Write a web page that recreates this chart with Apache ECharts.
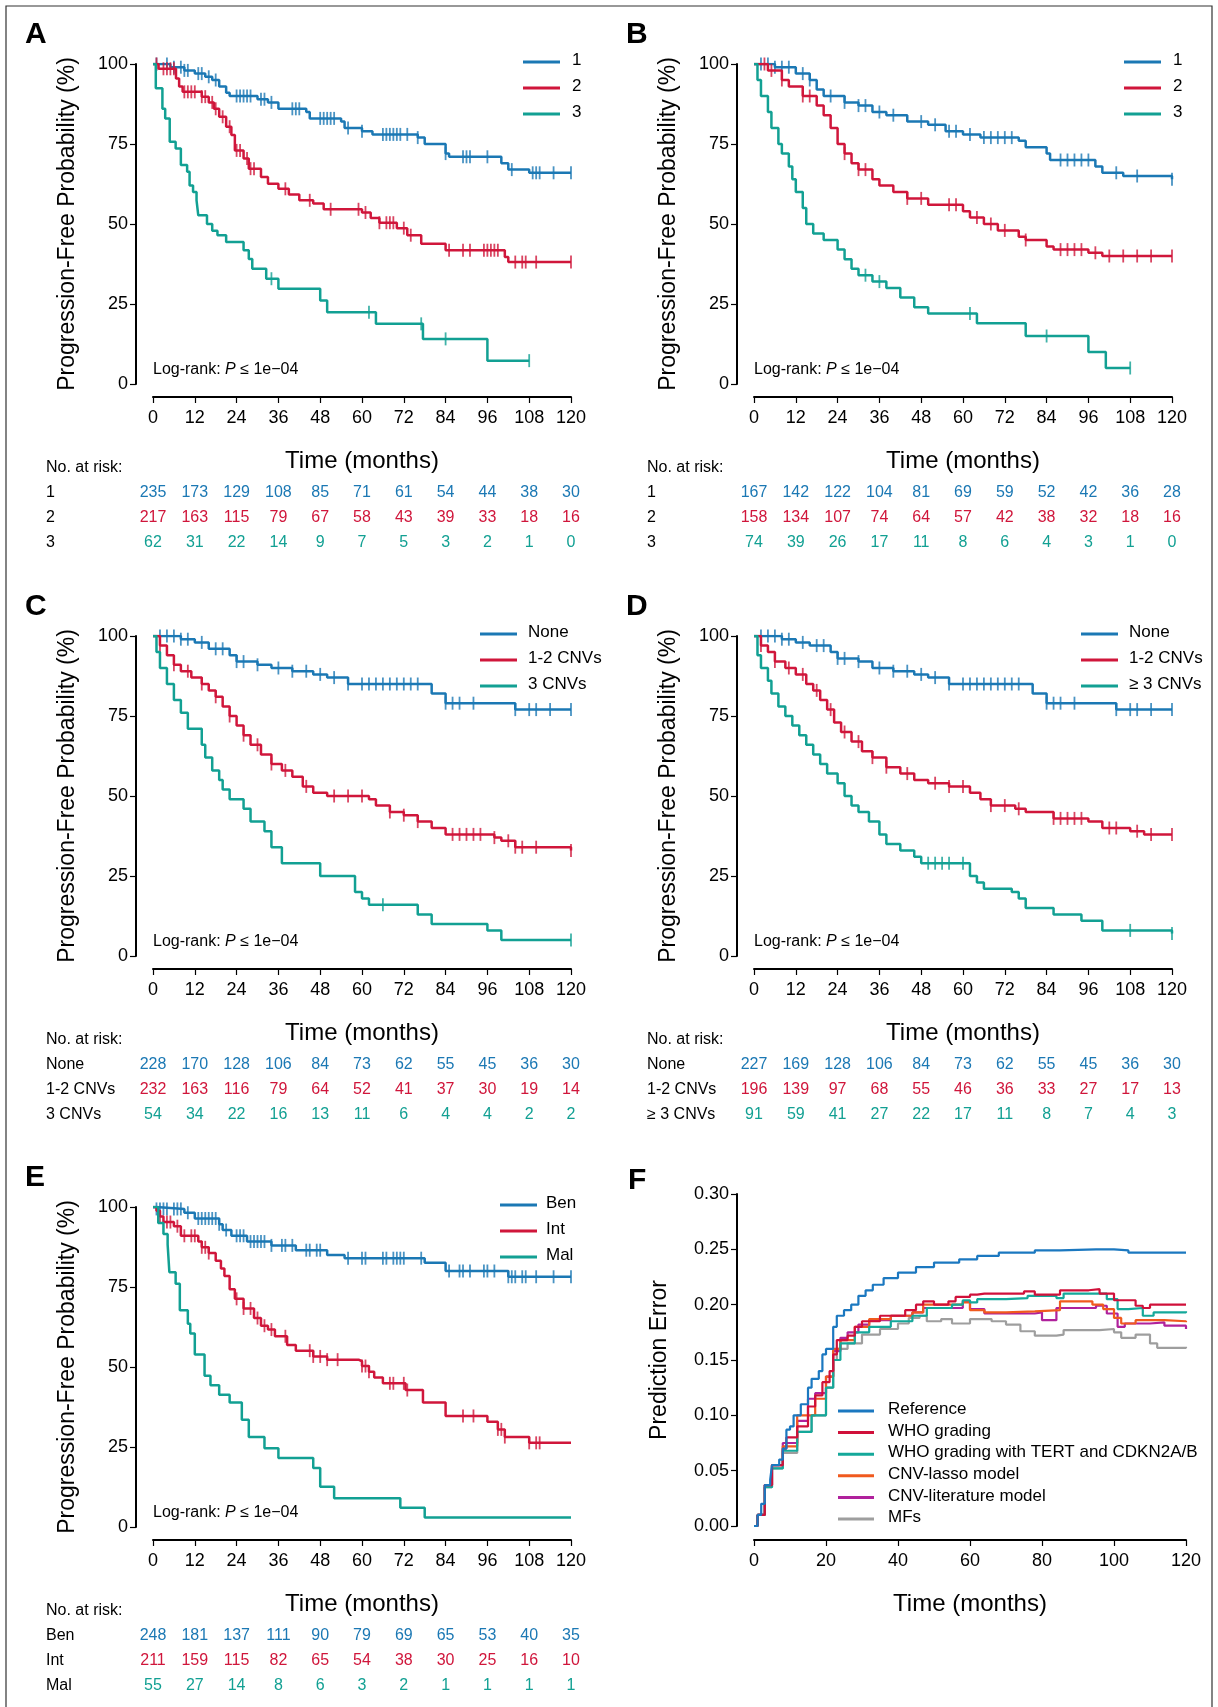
<!DOCTYPE html>
<html><head><meta charset="utf-8">
<script src="https://cdn.jsdelivr.net/npm/echarts@6/dist/echarts.min.js"></script>
<style>html,body{margin:0;padding:0;background:#fff}#c{width:1218px;height:1707px}</style>
</head><body><div id="c"></div>
<script>
var BLUE = '#1b78b4', RED = '#d0163b', TEAL = '#12a093';
var FONT = '"Liberation Sans", Arial, sans-serif';
var timeTicks = [0, 12, 24, 36, 48, 60, 72, 84, 96, 108, 120];

// ---- KM curves (time, % progression-free) ----
var A1 = [[0,100],[5,99],[9,98],[12,97],[15,96],[17,95],[19,93],[21,91],[22,90],[30,89],[33,88],[36,86],[44,85],[45,83],[54,82],[55,80],[60,79],[63,78],[76,77],[78,75],[84,72],[85,71],[100,69],[102,67],[108,66],[120,66]];
var A2 = [[0,100],[1.6,98.5],[6.6,95.5],[7.5,93],[8.5,91.3],[14,89.8],[16,88],[17.5,86],[19,83.5],[21,80.4],[22.5,77.8],[23.5,73],[26,70.5],[27.5,67.3],[31,64.7],[33,62.6],[36,61],[39,59.2],[42,57.4],[46,56.4],[49,54.6],[60,53.6],[62.5,51.9],[65,50.4],[70,48.7],[73,46.5],[77,43.8],[84,41.8],[101,39.7],[102,38.1],[120,38.1]];
var A3 = [[0,100],[0.8,92.4],[2.7,86],[3.5,83],[4.8,75.7],[6.5,73.6],[8,68.4],[9.8,66.3],[10.5,62],[11.5,60],[12.5,57.4],[13,52.7],[15.5,50],[17,47.9],[18.5,46.5],[21,44.4],[26,41.8],[27.5,39.1],[28.5,36],[32.5,32.9],[36,29.8],[48,26.1],[50,22.4],[64,18.8],[77.5,14.1],[96,7.3],[108,7.3]];
var B1 = [[0,100],[6,99],[12,97],[16,95],[18,92],[20,90],[26,88],[30,87],[34,85],[38,84],[44,82],[50,81],[55,79],[60,78],[65,77],[76,76],[78,74],[84,72],[85,70],[98,68],[100,66],[106,65],[120,64]];
var B2 = [[0,100],[4,98],[8,95],[10,93],[14,90],[18,87],[20,84],[22,80],[24,75],[26,72],[28,69],[30,67],[34,64],[36,62],[40,60],[44,58],[50,56],[60,54],[62,52],[66,50],[70,48],[76,46],[78,45],[84,43],[86,42],[96,41],[100,40],[120,40]];
var B3 = [[0,100],[1,95],[2,90],[4,85],[5,80],[7,75],[8,72],[10,68],[11,64],[12,60],[14,55],[15,50],[17,47],[20,45],[24,42],[26,39],[28,36],[30,34],[34,32],[38,30],[42,27],[46,24],[50,22],[64,19],[78,15],[96,10],[101,5],[108,5]];
var C1 = [[0,100],[8,99],[12,98],[16,96],[22,94],[24,92],[30,91],[34,90],[40,89],[46,88],[50,87],[56,85],[78,85],[80,82],[84,79],[104,77],[120,77]];
var C2 = [[0,100],[2,97],[4,94],[6,91],[8,89],[11,87],[14,85],[16,83],[18,81],[20,78],[22,75],[24,72],[26,69],[28,66],[31,63],[34,60],[37,58],[40,56],[43,53],[46,51],[50,50],[62,49],[64,47],[68,45],[72,44],[76,42],[80,40],[84,38],[98,37],[100,36],[104,34],[120,33]];
var C3 = [[0,100],[1,95],[2,90],[4,85],[6,80],[8,76],[10,71],[14,66],[15,62],[17,58],[19,55],[20,52],[22,49],[26,46],[28,42],[32,39],[34,34],[37,29],[48,25],[58,20],[60,18],[62,16],[72,16],[76,13],[80,10],[96,8],[100,5],[120,5]];
var D1 = [[0,100],[8,99],[12,98],[16,97],[22,95],[24,93],[30,92],[34,90],[40,89],[46,88],[50,87],[56,85],[78,85],[80,82],[84,79],[104,77],[120,77]];
var D2 = [[0,100],[2,97],[4,95],[6,92],[9,90],[12,88],[15,85],[17,83],[19,80],[21,77],[23,73],[25,70],[28,67],[31,64],[34,62],[38,59],[42,57],[46,55],[50,54],[56,53],[62,51],[65,49],[68,47],[75,46],[78,45],[86,43],[96,42],[100,40],[108,39],[112,38],[120,38]];
var D3 = [[0,100],[1,94],[2,90],[4,86],[5,82],[7,78],[9,75],[11,72],[13,69],[15,66],[17,63],[19,60],[21,57],[24,54],[26,50],[28,47],[30,45],[33,42],[36,38],[38,35],[42,33],[46,31],[48,29],[60,29],[62,25],[64,23],[66,21],[74,20],[76,18],[78,15],[86,13],[94,11],[100,8],[120,7]];
var E1 = [[0,100],[1,99.4],[9,98.2],[12,96.4],[19,94.6],[20,92.8],[22.5,91],[27,89.2],[34,88],[41,86.5],[50,85],[55,84],[78,82.6],[84,80],[102,78.2],[120,78.2]];
var E2 = [[0,100],[1,98.8],[2,97],[3,95.3],[6,94],[8,91],[13,89.2],[14,87.4],[16,85.6],[18,83.2],[19.5,80.8],[20.5,78.4],[22,74.3],[23.5,71.3],[26,68.3],[29,65.3],[31,62.9],[33,61.7],[35,59.6],[38.5,56.9],[41,55.1],[46,53.3],[50,52.3],[59,51.8],[60,50.3],[62,48.5],[63.5,46.7],[66,44.9],[72.5,42.8],[77.5,38.9],[84,34.7],[96,32.9],[99,30.5],[101,28.1],[108,26.3],[120,26.3]];
var E3 = [[0,100],[1.5,95],[3,91.6],[4.2,88.3],[4.7,79.6],[6.5,76],[7.7,67.7],[10,63.5],[10.7,60.5],[12,53.9],[14.8,47.3],[16.5,44.3],[19,41.3],[22,38.9],[25.5,33.5],[27.5,28.1],[32,24.6],[36,21.6],[46,18.4],[48,12.6],[52,9],[71,6],[78,3],[120,3]];

// censoring times
var A1c = [1,4,6,8,9,10,13,14,16,18,24,25,26,27,28,31,32,34,40,41,42,48,49,50,51,52,56,60,66,67,68,69,70,71,73,76,84,89,90,91,96,103,109,110,111,115,120];
var A2c = [1,3,4,5,6,9,10,11,12,14,15,17,18,20,22,24,25,27,28,29,38,45,51,59,61,65,67,68,69,72,74,85,89,91,95,96,97,98,99,104,106,107,110,120];
var A3c = [34,62,77,84,108];
var B1c = [2,4,6,8,10,14,16,22,26,30,32,36,40,48,52,56,58,62,66,68,70,72,74,88,90,92,94,96,104,110,120];
var B2c = [3,5,8,14,16,26,30,32,44,48,56,58,64,68,72,78,88,90,92,94,98,102,106,110,114,120];
var B3c = [32,36,62,84,108];
var C1c = [2,4,6,8,10,14,18,20,24,26,30,36,40,44,48,52,56,60,62,64,66,68,70,72,74,76,84,86,88,92,104,108,110,114,120];
var C2c = [2,6,10,14,18,22,26,30,34,38,44,52,56,60,68,72,76,86,88,90,92,94,98,102,104,106,110,120];
var C3c = [66,120];
var D1c = [2,4,6,8,10,14,18,20,24,26,30,36,40,44,48,52,56,60,62,64,66,68,70,72,74,76,84,86,88,92,104,108,110,114,120];
var D2c = [2,6,10,14,18,22,26,30,34,38,44,52,56,60,68,72,76,86,88,90,92,94,102,104,110,114,120];
var D3c = [50,52,54,56,60,108,120];
var E1c = [1,2,3,4,6,7,8,10,13,14,15,16,17,18,19,21,24,25,26,28,29,30,31,32,34,37,38,40,44,45,47,48,56,60,61,66,67,69,70,71,72,77,85,88,89,91,95,96,98,102,103,104,106,107,110,115,120];
var E2c = [2,4,5,7,9,11,12,14,15,16,24,26,28,30,32,34,38,45,46,48,50,53,60,61,62,68,69,72,73,89,92,99,100,101,108,110,111];
var E3c = [];

// ---- prediction error curves (panel F) ----
var fRef = [[0,0],[1,0.01],[2,0.02],[3,0.037],[4.5,0.042],[5,0.055],[7,0.06],[8,0.07],[9,0.087],[10,0.09],[11,0.1],[13,0.11],[15,0.125],[16,0.133],[18,0.14],[19,0.155],[20,0.16],[22,0.18],[23,0.19],[25,0.195],[27,0.2],[29,0.208],[31,0.213],[33,0.218],[36,0.224],[40,0.229],[45,0.234],[50,0.238],[57,0.241],[62,0.244],[68,0.247],[78,0.249],[85,0.25],[95,0.25],[100,0.249],[104,0.247],[120,0.247]];
var fWho = [[0,0],[1,0.01],[3,0.037],[5,0.055],[8,0.07],[9,0.08],[12,0.09],[15,0.108],[17,0.118],[19,0.13],[21,0.14],[22,0.155],[23,0.168],[26,0.172],[28,0.18],[30,0.185],[35,0.19],[42,0.195],[45,0.2],[47,0.203],[50,0.2],[54,0.203],[56,0.207],[60,0.209],[62,0.21],[64,0.21],[75,0.212],[78,0.209],[85,0.213],[93,0.214],[96,0.21],[100,0.204],[103,0.204],[106,0.199],[108,0.197],[110,0.2],[120,0.2]];
var fTert = [[0,0],[1,0.01],[3,0.035],[5,0.052],[8,0.068],[12,0.085],[16,0.1],[20,0.125],[22,0.15],[24,0.165],[28,0.175],[32,0.18],[38,0.185],[44,0.19],[48,0.197],[55,0.2],[58,0.204],[60,0.202],[62,0.205],[70,0.206],[76,0.208],[84,0.206],[86,0.21],[95,0.21],[98,0.205],[101,0.196],[104,0.197],[108,0.19],[111,0.193],[120,0.194]];
var fLasso = [[0,0],[1,0.01],[3,0.037],[5,0.055],[8,0.072],[12,0.1],[17,0.115],[20,0.135],[22,0.16],[24,0.168],[28,0.18],[32,0.187],[38,0.19],[44,0.193],[47,0.2],[56,0.2],[58,0.202],[60,0.195],[64,0.193],[70,0.194],[78,0.195],[85,0.203],[94,0.2],[97,0.196],[100,0.188],[102,0.183],[106,0.186],[110,0.186],[114,0.185],[120,0.184]];
var fLit = [[0,0],[1,0.01],[3,0.037],[5,0.055],[8,0.075],[12,0.095],[15,0.115],[17,0.12],[20,0.135],[22,0.158],[24,0.17],[26,0.175],[29,0.182],[32,0.186],[38,0.19],[44,0.193],[47,0.197],[58,0.203],[60,0.196],[64,0.192],[78,0.193],[80,0.186],[84,0.197],[95,0.199],[98,0.192],[101,0.18],[103,0.183],[107,0.183],[110,0.184],[114,0.181],[120,0.178]];
var fMF = [[0,0],[1,0.01],[3,0.035],[5,0.052],[8,0.066],[12,0.085],[16,0.1],[20,0.125],[22,0.15],[23,0.16],[26,0.165],[30,0.173],[35,0.178],[40,0.183],[43,0.188],[46,0.19],[48,0.185],[52,0.187],[55,0.183],[60,0.187],[66,0.185],[70,0.182],[74,0.176],[78,0.172],[84,0.173],[86,0.177],[96,0.178],[100,0.175],[102,0.17],[106,0.173],[108,0.173],[110,0.165],[112,0.161],[120,0.162]];
var fNames = ['Reference', 'WHO grading', 'WHO grading with TERT and CDKN2A/B', 'CNV-lasso model', 'CNV-literature model', 'MFs'];
var fColors = ['#1b78c0', '#d0103a', '#14a89a', '#f05a1e', '#b0219c', '#9e9e9e'];

// ---- risk tables ----
var riskA = [[235,173,129,108,85,71,61,54,44,38,30],[217,163,115,79,67,58,43,39,33,18,16],[62,31,22,14,9,7,5,3,2,1,0]];
var riskB = [[167,142,122,104,81,69,59,52,42,36,28],[158,134,107,74,64,57,42,38,32,18,16],[74,39,26,17,11,8,6,4,3,1,0]];
var riskC = [[228,170,128,106,84,73,62,55,45,36,30],[232,163,116,79,64,52,41,37,30,19,14],[54,34,22,16,13,11,6,4,4,2,2]];
var riskD = [[227,169,128,106,84,73,62,55,45,36,30],[196,139,97,68,55,46,36,33,27,17,13],[91,59,41,27,22,17,11,8,7,4,3]];
var riskE = [[248,181,137,111,90,79,69,65,53,40,35],[211,159,115,82,65,54,38,30,25,16,10],[55,27,14,8,6,3,2,1,1,1,1]];

var panels = [
  {letter:'A', left:153, top:64, curves:[A1,A2,A3], cens:[A1c,A2c,A3c], names:['1','2','3'], risk:riskA, legX:523, legTextX:572},
  {letter:'B', left:754, top:64, curves:[B1,B2,B3], cens:[B1c,B2c,B3c], names:['1','2','3'], risk:riskB, legX:1124, legTextX:1173},
  {letter:'C', left:153, top:636, curves:[C1,C2,C3], cens:[C1c,C2c,C3c], names:['None','1-2 CNVs','3 CNVs'], risk:riskC, legX:480, legTextX:528},
  {letter:'D', left:754, top:636, curves:[D1,D2,D3], cens:[D1c,D2c,D3c], names:['None','1-2 CNVs','≥ 3 CNVs'], risk:riskD, legX:1081, legTextX:1129},
  {letter:'E', left:153, top:1207, curves:[E1,E2,E3], cens:[E1c,E2c,E3c], names:['Ben','Int','Mal'], risk:riskE, legX:500, legTextX:546}
];
var W = 418, H = 320;
var cols = [BLUE, RED, TEAL];

function stepAt(curve, t) {
  var v = curve[0][1];
  for (var i = 0; i < curve.length; i++) { if (curve[i][0] <= t) v = curve[i][1]; }
  return v;
}

var grids = [], xAxes = [], yAxes = [], series = [], graphics = [];
var axisCommon = {
  axisLine: {show: true, onZero: false, lineStyle: {color: '#000', width: 2}},
  axisTick: {show: true, length: 6, lineStyle: {color: '#000', width: 1.2}},
  splitLine: {show: false}
};
function lab(extra) { return Object.assign({color: '#000', fontSize: 18, fontFamily: FONT}, extra || {}); }
panels.forEach(function (p, gi) {
  grids.push({left: p.left, top: p.top, width: W, height: H});
  xAxes.push(Object.assign({gridIndex: gi, type: 'value', min: 0, max: 120, interval: 12, offset: 13,
    name: 'Time (months)', nameLocation: 'middle', nameGap: 52,
    nameTextStyle: {fontSize: 24, fontFamily: FONT, color: '#000'}}, axisCommon,
    {axisLabel: lab({margin: 12})}));
  yAxes.push(Object.assign({gridIndex: gi, type: 'value', min: 0, max: 100, interval: 25, offset: 17,
    name: 'Progression-Free Probability (%)', nameLocation: 'middle', nameGap: 57,
    nameTextStyle: {fontSize: 23, fontFamily: FONT, color: '#000'}}, axisCommon,
    {axisLabel: lab({margin: 8})}));
  p.curves.forEach(function (c, k) {
    series.push({type: 'line', step: 'end', xAxisIndex: gi, yAxisIndex: gi, data: c, symbol: 'none',
      lineStyle: {color: cols[k], width: 2.5}, silent: true, z: 3 + k});
    series.push({type: 'scatter', xAxisIndex: gi, yAxisIndex: gi, symbol: 'rect', symbolSize: [1.8, 13],
      itemStyle: {color: cols[k]}, silent: true, z: 3 + k,
      data: p.cens[k].map(function (t) { return [t, stepAt(c, t)]; })});
  });
  graphics.push({type: 'text', left: p.left - 128, top: p.top - 44,
    style: {text: p.letter, font: 'bold 30px ' + FONT, fill: '#000'}});
  graphics.push({type: 'text', left: p.left, top: p.top + H - 22,
    style: {text: '{n|Log-rank: }{i|P}{n| ≤ 1e−04}', fill: '#000',
      rich: {n: {font: '16px ' + FONT}, i: {font: 'italic 16px ' + FONT}}}});
  p.names.forEach(function (nm, k) {
    var y = p.top - 2 + k * 26;
    graphics.push({type: 'line', shape: {x1: p.legX, y1: y, x2: p.legX + 37, y2: y}, style: {stroke: cols[k], lineWidth: 3}});
    graphics.push({type: 'text', left: p.legTextX, top: y - 10, style: {text: nm, font: '17px ' + FONT, fill: '#000'}});
  });
});

// panel F
var fg = panels.length;
grids.push({left: 754, top: 1194, width: 432, height: 332});
xAxes.push(Object.assign({gridIndex: fg, type: 'value', min: 0, max: 120, interval: 20, offset: 14,
  name: 'Time (months)', nameLocation: 'middle', nameGap: 52,
  nameTextStyle: {fontSize: 24, fontFamily: FONT, color: '#000'}}, axisCommon,
  {axisLabel: lab({margin: 12})}));
yAxes.push(Object.assign({gridIndex: fg, type: 'value', min: 0, max: 0.30, interval: 0.05, offset: 17,
  name: 'Prediction Error', nameLocation: 'middle', nameGap: 66,
  nameTextStyle: {fontSize: 23, fontFamily: FONT, color: '#000'}}, axisCommon,
  {axisLabel: lab({margin: 8, formatter: function (v) { return v.toFixed(2); }})}));
[fRef, fWho, fTert, fLasso, fLit, fMF].forEach(function (d, k) {
  series.push({type: 'line', step: 'end', xAxisIndex: fg, yAxisIndex: fg, data: d, symbol: 'none',
    lineStyle: {color: fColors[k], width: 2.2}, silent: true, z: 8 - k});
  var y = 1411 + k * 21.6;
  graphics.push({type: 'line', shape: {x1: 838, y1: y, x2: 874, y2: y}, style: {stroke: fColors[k], lineWidth: 3}});
  graphics.push({type: 'text', left: 888, top: y - 10, style: {text: fNames[k], font: '17px ' + FONT, fill: '#000'}});
});
graphics.push({type: 'text', left: 628, top: 1166, style: {text: 'F', font: 'bold 30px ' + FONT, fill: '#000'}});
graphics.push({type: 'rect', shape: {x: 6, y: 6, width: 1206, height: 1720}, style: {fill: 'none', stroke: '#333', lineWidth: 1.2}, z: -1});

var chart = echarts.init(document.getElementById('c'));
chart.setOption({animation: false, grid: grids, xAxis: xAxes, yAxis: yAxes, series: series, graphic: graphics});

// risk tables positioned from the axis scale
var extra = [];
panels.forEach(function (p, gi) {
  var base = p.top + H;
  extra.push({type: 'text', left: p.left - 107, top: base + 76, style: {text: 'No. at risk:', font: '16px ' + FONT, fill: '#000'}});
  p.risk.forEach(function (row, r) {
    var y = base + 101 + r * 25;
    extra.push({type: 'text', left: p.left - 107, top: y, style: {text: p.names[r], font: '16px ' + FONT, fill: '#000'}});
    row.forEach(function (v, i) {
      var px = chart.convertToPixel({gridIndex: gi}, [timeTicks[i], 0])[0];
      extra.push({type: 'text', x: px, y: y, style: {text: String(v), font: '16px ' + FONT, fill: cols[r], align: 'center'}});
    });
  });
});
chart.setOption({graphic: graphics.concat(extra)});
</script></body></html>
